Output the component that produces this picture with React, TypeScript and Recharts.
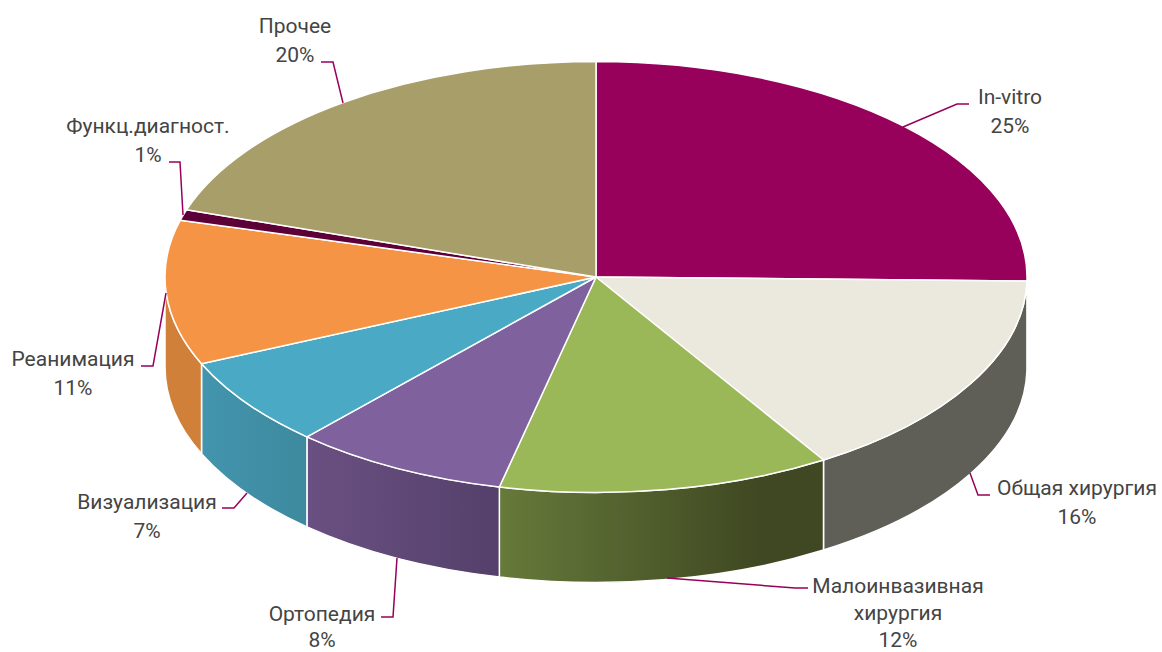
import { PieChart, Pie } from "recharts"

// slice sizes, the printed labels are rounded
const categories = ["In-vitro", "Общая хирургия", "Малоинвазивная хирургия", "Ортопедия", "Визуализация", "Реанимация", "Функц.диагност.", "Прочее"]
const shares = [25.3, 15.85, 12.45, 8.1, 6.7, 10.85, 0.8, 19.95]
const percentLabels = ["25%", "16%", "12%", "8%", "7%", "11%", "1%", "20%"]
const nameLines = [["In-vitro"], ["Общая хирургия"], ["Малоинвазивная", "хирургия"], ["Ортопедия"], ["Визуализация"], ["Реанимация"], ["Функц.диагност."], ["Прочее"]]

const topColors = ["#97005b", "#ebe9de", "#9bb859", "#7e619d", "#4aa9c4", "#f59445", "#5c0037", "#a89e6a"]
const wallFills = ["#5f5f58", "#5f5f58", "url(#wallGreen)", "url(#wallPurple)", "url(#wallTeal)", "#d08039", "#d08039", "#a89e6a"]

const data = categories.map((name, i) => ({ name, share: shares[i] }))

const SQUASH = 0.5
const DEPTH = 90

// label anchors: text centre, first baseline, line gap, leader line
const labelLayout = [
  { x: 1010, y: 104, gap: 28.7, leader: "903,127 957,104 969,104" },
  { x: 1077, y: 495, gap: 28.7, leader: "970,473 978,495 990,495" },
  { x: 898, y: 593, gap: 27, leader: "667,578 795,588 808,588" },
  { x: 322, y: 621, gap: 26, leader: "397,558 393,617 381,617" },
  { x: 147, y: 509, gap: 28.7, leader: "247,493 234,508 222,508" },
  { x: 73, y: 366, gap: 28.7, leader: "166,293 153,366 141,366" },
  { x: 148, y: 133, gap: 28.7, leader: "183,215 180,162 169,162" },
  { x: 295, y: 33, gap: 28.7, leader: "343,103 333,62 321,62" },
]

const pt = (cx: number, cy: number, r: number, deg: number) => {
  const a = (deg * Math.PI) / 180
  return [cx + r * Math.cos(a), cy - r * SQUASH * Math.sin(a)]
}

function TopSlice(props: any) {
  const { cx, cy, outerRadius: r, startAngle, endAngle, index } = props
  const [x1, y1] = pt(cx, cy, r, startAngle)
  const [x2, y2] = pt(cx, cy, r, endAngle)
  const large = Math.abs(startAngle - endAngle) > 180 ? 1 : 0
  const d = `M${cx},${cy} L${x1},${y1} A${r},${r * SQUASH} 0 ${large} 1 ${x2},${y2} Z`
  return <path d={d} fill={topColors[index]} stroke="#fff" strokeWidth={1.5} strokeLinejoin="round" />
}

// only the front half of the rim is visible
function WallSlice(props: any) {
  const { cx, cy, outerRadius: r, startAngle, endAngle, index } = props
  const s = Math.min(startAngle, 0)
  const e = Math.max(endAngle, -180)
  if (s <= e) return null
  const [x1, y1] = pt(cx, cy, r, s)
  const [x2, y2] = pt(cx, cy, r, e)
  const ry = r * SQUASH
  const d = `M${x1},${y1} A${r},${ry} 0 0 1 ${x2},${y2} L${x2},${y2 + DEPTH} A${r},${ry} 0 0 0 ${x1},${y1 + DEPTH} Z`
  return <path d={d} fill={wallFills[index]} stroke="#fff" strokeWidth={1.5} />
}

function SliceLabel(props: any) {
  const { index } = props
  const layout = labelLayout[index]
  const lines = [...nameLines[index], percentLabels[index]]
  return (
    <g>
      <polyline points={layout.leader} fill="none" stroke="#97005b" strokeWidth={1.5} />
      <text textAnchor="middle" fontFamily="Roboto" fontSize={21} fontWeight={400} fill="#444444">
        {lines.map((line, i) => (
          <tspan key={i} x={layout.x} y={layout.y + i * layout.gap}>
            {line}
          </tspan>
        ))}
      </text>
    </g>
  )
}

export default function App() {
  return (
    <div style={{ position: "absolute", left: 0, top: 0, width: 1162, height: 652 }}>
      <PieChart width={1162} height={652} margin={{ top: 0, right: 0, bottom: 0, left: 0 }}>
        <defs>
          <linearGradient id="wallGreen" x1="0" y1="0" x2="1" y2="0">
            <stop offset="0" stopColor="#667a3a" />
            <stop offset="0.8" stopColor="#3f4822" />
            <stop offset="1" stopColor="#3f4822" />
          </linearGradient>
          <linearGradient id="wallPurple" x1="0" y1="0" x2="1" y2="0">
            <stop offset="0" stopColor="#6a5082" />
            <stop offset="1" stopColor="#54406a" />
          </linearGradient>
          <linearGradient id="wallTeal" x1="0" y1="0" x2="1" y2="0">
            <stop offset="0" stopColor="#4394ae" />
            <stop offset="1" stopColor="#3d8a9e" />
          </linearGradient>
        </defs>
        <Pie
          data={data}
          dataKey="share"
          nameKey="name"
          cx={596}
          cy={277}
          innerRadius={0}
          outerRadius={431}
          startAngle={90}
          endAngle={-270}
          shape={WallSlice}
          label={false}
          labelLine={false}
          isAnimationActive={false}
        />
        <Pie
          data={data}
          dataKey="share"
          nameKey="name"
          cx={596}
          cy={277}
          innerRadius={0}
          outerRadius={431}
          startAngle={90}
          endAngle={-270}
          shape={TopSlice}
          label={SliceLabel}
          labelLine={false}
          isAnimationActive={false}
        />
      </PieChart>
    </div>
  )
}
